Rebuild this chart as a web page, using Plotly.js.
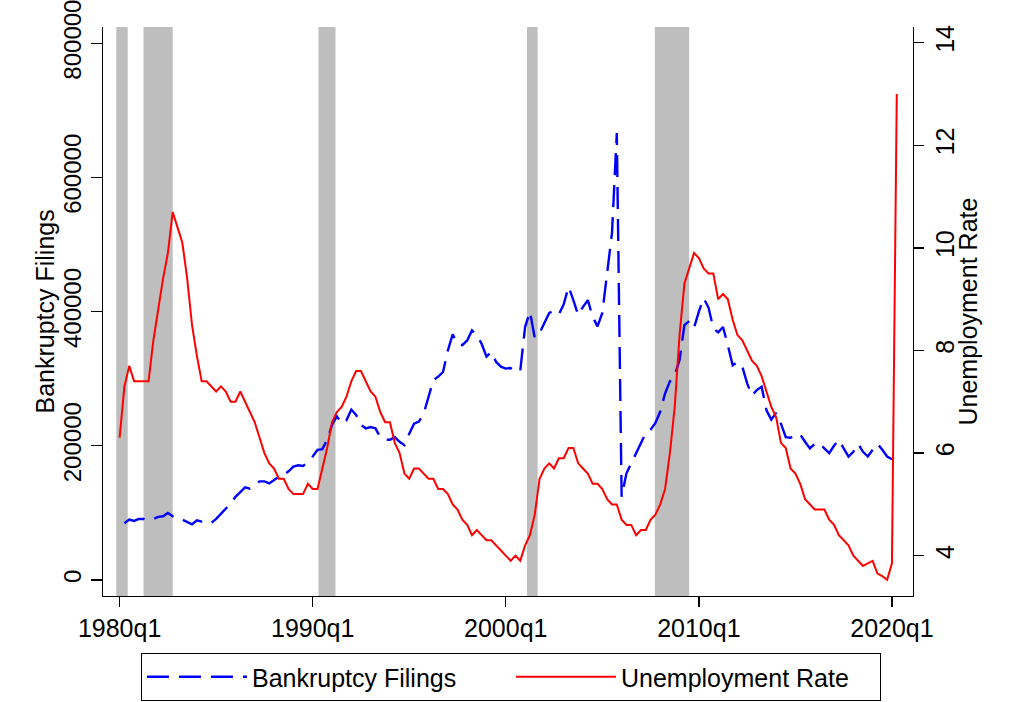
<!DOCTYPE html>
<html>
<head>
<meta charset="utf-8">
<script src="https://cdn.plot.ly/plotly-3.0.1.min.js"></script>
<style>
  html, body { margin: 0; padding: 0; background: #ffffff; }
  #chart { width: 1012px; height: 702px; }
</style>
</head>
<body>
<div id="chart"></div>
<script>
// ---- Data (quarterly, starting 1980q1) ----
const startYear = 1980;

// Quarterly U.S. bankruptcy filings (1980q1 .. 2020q1); first quarter not plotted
const bankruptcyFilings = [
  null, 84500, 90000, 88000, 91000, 91000, 89000, 91000,
  94000, 95000, 100000, 95000, 91000, 90000, 87000, 83000,
  89000, 87000, 88000, 85000, 91000, 99000, 106000, 114000,
  124000, 131000, 138000, 136000, 141000, 147000, 147000, 144000,
  149000, 154000, 157000, 162000, 169000, 171000, 170000, 176000,
  184000, 194000, 195000, 209000, 231000, 244000, 233000, 238000,
  254000, 246000, 231000, 226000, 228000, 226000, 213000, 209000,
  209000, 213000, 206000, 201000, 218000, 233000, 236000, 248000,
  273000, 298000, 303000, 310000, 342000, 366000, 352000, 350000,
  357000, 372000, 365000, 352000, 333000, 340000, 325000, 318000,
  315000, 316000, 310000, 312000, 377000, 400000, 361000, 368000,
  383000, 398000, 401000, 396000, 411000, 437000, 417000, 395000,
  407000, 417000, 392000, 378000, 398000, 457000, 517000, 666000,
  124000, 159000, 174000, 189000, 204000, 219000, 224000, 234000,
  251000, 278000, 296000, 305000, 328000, 380000, 386000, 376000,
  400000, 420000, 406000, 375000, 369000, 377000, 350000, 320000,
  325000, 318000, 293000, 275000, 283000, 288000, 253000, 239000,
  249000, 233000, 213000, 212000, 217000, 217000, 206000, 196000,
  203000, 204000, 196000, 189000, 200000, 209000, 196000, 184000,
  191000, 203000, 191000, 184000, 194000, 203000, 194000, 184000,
  180000
];

// Quarterly unemployment rate, percent (1980q1 .. 2020q2)
const unemploymentRate = [
  6.3, 7.3, 7.7, 7.4,   7.4, 7.4, 7.4, 8.2,   8.8, 9.4, 9.9, 10.7,
  10.4, 10.1, 9.4, 8.5, 7.9, 7.4, 7.4, 7.3,   7.2, 7.3, 7.2, 7.0,
  7.0, 7.2, 7.0, 6.8,   6.6, 6.3, 6.0, 5.8,   5.7, 5.5, 5.5, 5.3,
  5.2, 5.2, 5.2, 5.4,   5.3, 5.3, 5.7, 6.1,   6.6, 6.8, 6.9, 7.1,
  7.4, 7.6, 7.6, 7.4,   7.2, 7.1, 6.8, 6.6,   6.6, 6.2, 6.0, 5.6,
  5.5, 5.7, 5.7, 5.6,   5.5, 5.5, 5.3, 5.3,   5.2, 5.0, 4.9, 4.7,
  4.6, 4.4, 4.5, 4.4,   4.3, 4.3, 4.2, 4.1,   4.0, 3.9, 4.0, 3.9,
  4.2, 4.4, 4.8, 5.5,   5.7, 5.8, 5.7, 5.9,   5.9, 6.1, 6.1, 5.8,
  5.7, 5.6, 5.4, 5.4,   5.3, 5.1, 5.0, 5.0,   4.7, 4.6, 4.6, 4.4,
  4.5, 4.5, 4.7, 4.8,   5.0, 5.3, 6.0, 6.9,   8.3, 9.3, 9.6, 9.9,
  9.8, 9.6, 9.5, 9.5,   9.0, 9.1, 9.0, 8.6,   8.3, 8.2, 8.0, 7.8,
  7.7, 7.5, 7.2, 6.9,   6.7, 6.2, 6.1, 5.7,   5.6, 5.4, 5.1, 5.0,
  4.9, 4.9, 4.9, 4.7,   4.6, 4.4, 4.3, 4.2,   4.0, 3.9, 3.8, 3.85,
  3.9, 3.65, 3.6, 3.53, 3.85, 13.0
];

// Recession shading periods (decimal years)
const recessionStart = [1979.83, 1981.24, 1990.30, 2001.10, 2007.72];
const recessionEnd   = [1980.42, 1982.75, 1991.18, 2001.65, 2009.50];

// Axis ticks and titles
const xTickVals   = [1980, 1990, 2000, 2010, 2020];
const xTickLabels = ['1980q1', '1990q1', '2000q1', '2010q1', '2020q1'];
const leftTickVals   = [0, 200000, 400000, 600000, 800000];
const leftTickLabels = ['0', '200000', '400000', '600000', '800000'];
const leftGridVals   = [0, 200000, 400000, 600000];
const rightTickVals  = [4, 6, 8, 10, 12, 14];
const leftTitle  = 'Bankruptcy Filings';
const rightTitle = 'Unemployment Rate';

// ---- Build traces ----
const xB = bankruptcyFilings.map((_, i) => startYear + i / 4);
const xU = unemploymentRate.map((_, i) => startYear + i / 4);

const FONT = 'Liberation Sans, Arial, sans-serif';
const BLACK = '#000000';

const traces = [
  {
    x: xB, y: bankruptcyFilings, type: 'scatter', mode: 'lines',
    name: 'Bankruptcy Filings', yaxis: 'y',
    line: { color: '#0000ff', width: 2.4, dash: '22px,10px' },
    connectgaps: false
  },
  {
    x: xU, y: unemploymentRate, type: 'scatter', mode: 'lines',
    name: 'Unemployment Rate', yaxis: 'y2',
    line: { color: '#ff0000', width: 2 }
  }
];

const shapes = recessionStart.map((s, i) => ({
  type: 'rect', xref: 'x', yref: 'paper',
  x0: s, x1: recessionEnd[i], y0: 0, y1: 1,
  fillcolor: '#bebebe', line: { width: 0 }, layer: 'between'
}));

const leftRange = [-23845, 824143];

const layout = {
  width: 1012, height: 702,
  paper_bgcolor: '#ffffff', plot_bgcolor: '#ffffff',
  margin: { l: 103, r: 99, t: 27, b: 106 },
  font: { family: FONT, size: 25, color: BLACK },
  showlegend: true,
  legend: {
    orientation: 'h', xref: 'container', yref: 'container',
    x: 0.1393, xanchor: 'left', y: 0.0698, yanchor: 'top',
    bordercolor: BLACK, borderwidth: 1, bgcolor: '#ffffff',
    font: { family: FONT, size: 25, color: BLACK },
    itemwidth: 100, entrywidth: 254, traceorder: 'normal'
  },
  xaxis: {
    range: [1979.14, 2021.09],
    tickvals: xTickVals, ticktext: xTickLabels,
    ticks: 'outside', ticklen: 10, tickwidth: 1.3, tickcolor: BLACK,
    showline: true, linecolor: BLACK, linewidth: 1.3,
    showgrid: false, zeroline: false,
    tickfont: { family: FONT, size: 25, color: BLACK }
  },
  yaxis: {
    range: leftRange,
    tickvals: leftTickVals, ticktext: leftTickLabels, tickangle: -90,
    ticklabeloverflow: 'allow',
    ticks: 'outside', ticklen: 11, tickwidth: 1.3, tickcolor: BLACK,
    showline: true, linecolor: BLACK, linewidth: 1.3,
    showgrid: false, zeroline: false,
    tickfont: { family: FONT, size: 24, color: BLACK }
  },
  yaxis2: {
    range: [3.214, 14.306], overlaying: 'y', side: 'right',
    tickvals: rightTickVals, tickangle: -90,
    ticks: 'outside', ticklen: 10, tickwidth: 1.3, tickcolor: BLACK,
    showline: true, linecolor: BLACK, linewidth: 1.3,
    showgrid: false, zeroline: false,
    tickfont: { family: FONT, size: 25, color: BLACK }
  },
  yaxis3: {
    range: leftRange, overlaying: 'y', side: 'left',
    tickvals: leftGridVals, showticklabels: false, ticks: '',
    showline: false, showgrid: true, gridcolor: '#e6eef0', gridwidth: 1.5,
    zeroline: false
  },
  annotations: [
    {
      text: leftTitle, xref: 'paper', yref: 'paper', x: -0.0728, y: 0.5,
      xanchor: 'center', yanchor: 'middle', textangle: -90, showarrow: false,
      font: { family: FONT, size: 25, color: BLACK }
    },
    {
      text: rightTitle, xref: 'paper', yref: 'paper', x: 1.0679, y: 0.5,
      xanchor: 'center', yanchor: 'middle', textangle: -90, showarrow: false,
      font: { family: FONT, size: 25, color: BLACK }
    }
  ],
  shapes: shapes
};

Plotly.newPlot('chart', traces, layout, { staticPlot: true, displayModeBar: false });
</script>
</body>
</html>
